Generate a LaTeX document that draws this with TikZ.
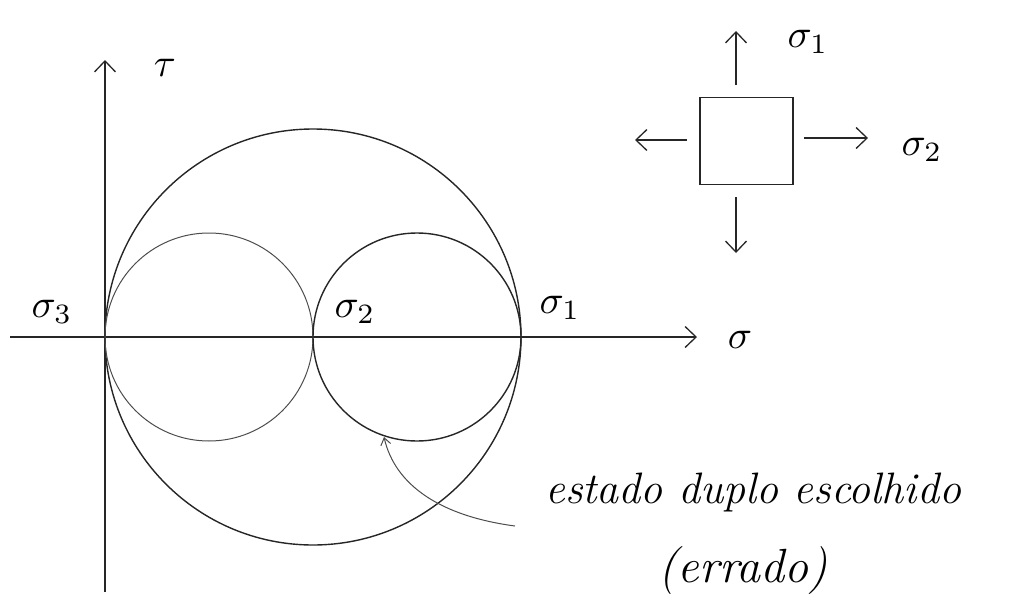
\documentclass[tikz,border=0pt]{standalone}
\usepackage{fontspec}
\usetikzlibrary{arrows.meta}
\begin{document}
\begin{tikzpicture}[x=1pt,y=-1pt,
  ln/.style={line width=1.4pt,draw=black!85},
  thin/.style={line width=1pt,draw=black!70},
  barb/.style={-{Straight Barb[length=11pt,width=21pt,line width=1.3pt]}},
  sbarb/.style={-{Straight Barb[length=7pt,width=10pt,line width=1pt]}},
  lab/.style={scale=4,inner sep=0pt},
  hand/.style={font=\fontsize{44}{50}\selectfont\itshape,inner sep=0pt}]
\useasboundingbox (0,0) rectangle (1027,602);
% axes
\coordinate (xs) at (10,337);
\coordinate (xe) at (697,337);
\coordinate (ys) at (105,592);
\coordinate (ye) at (105,60);
\draw[ln,barb] (xs) -- (xe);
\draw[ln,barb] (ys) -- (ye);
\node[lab] (tau) at (165,68) {$\tau$};
\node[lab] (sig) at (740,340) {$\sigma$};
% circles
\draw[ln] (313,337) circle[radius=208];
\draw[thin] (209,337) circle[radius=104];
\draw[ln] (417,337) circle[radius=104];
\node[lab] (s3) at (52,312) {$\sigma_3$};
\node[lab] (s2) at (355,312) {$\sigma_2$};
\node[lab] (s1) at (560,308) {$\sigma_1$};
% element
\node[draw=black!85,line width=1.4pt,minimum width=93pt,minimum height=87pt,inner sep=0pt] (sq) at (746.5,141) {};
\coordinate (up) at (736,31);
\coordinate (dn) at (736,253);
\coordinate (rt) at (868,138);
\coordinate (lf) at (635,140);
\draw[ln,barb] (736,85) -- (up);
\draw[ln,barb] (736,197) -- (dn);
\draw[ln,barb] (804,138) -- (rt);
\draw[ln,barb] (687,140) -- (lf);
\node[lab] (e1) at (808,42) {$\sigma_1$};
\node[lab] (e2) at (922,150) {$\sigma_2$};
% note
\node[hand,anchor=base west] (note) at (545,503) {estado duplo escolhido};
\node[hand,font=\fontsize{48}{54}\selectfont\itshape,anchor=base] (err) at (743,582) {(errado)};
\coordinate (tgt) at (384,437);
\draw[thin,sbarb] (515,526) .. controls (440,516) and (395,485) .. (tgt);
\end{tikzpicture}
\end{document}
